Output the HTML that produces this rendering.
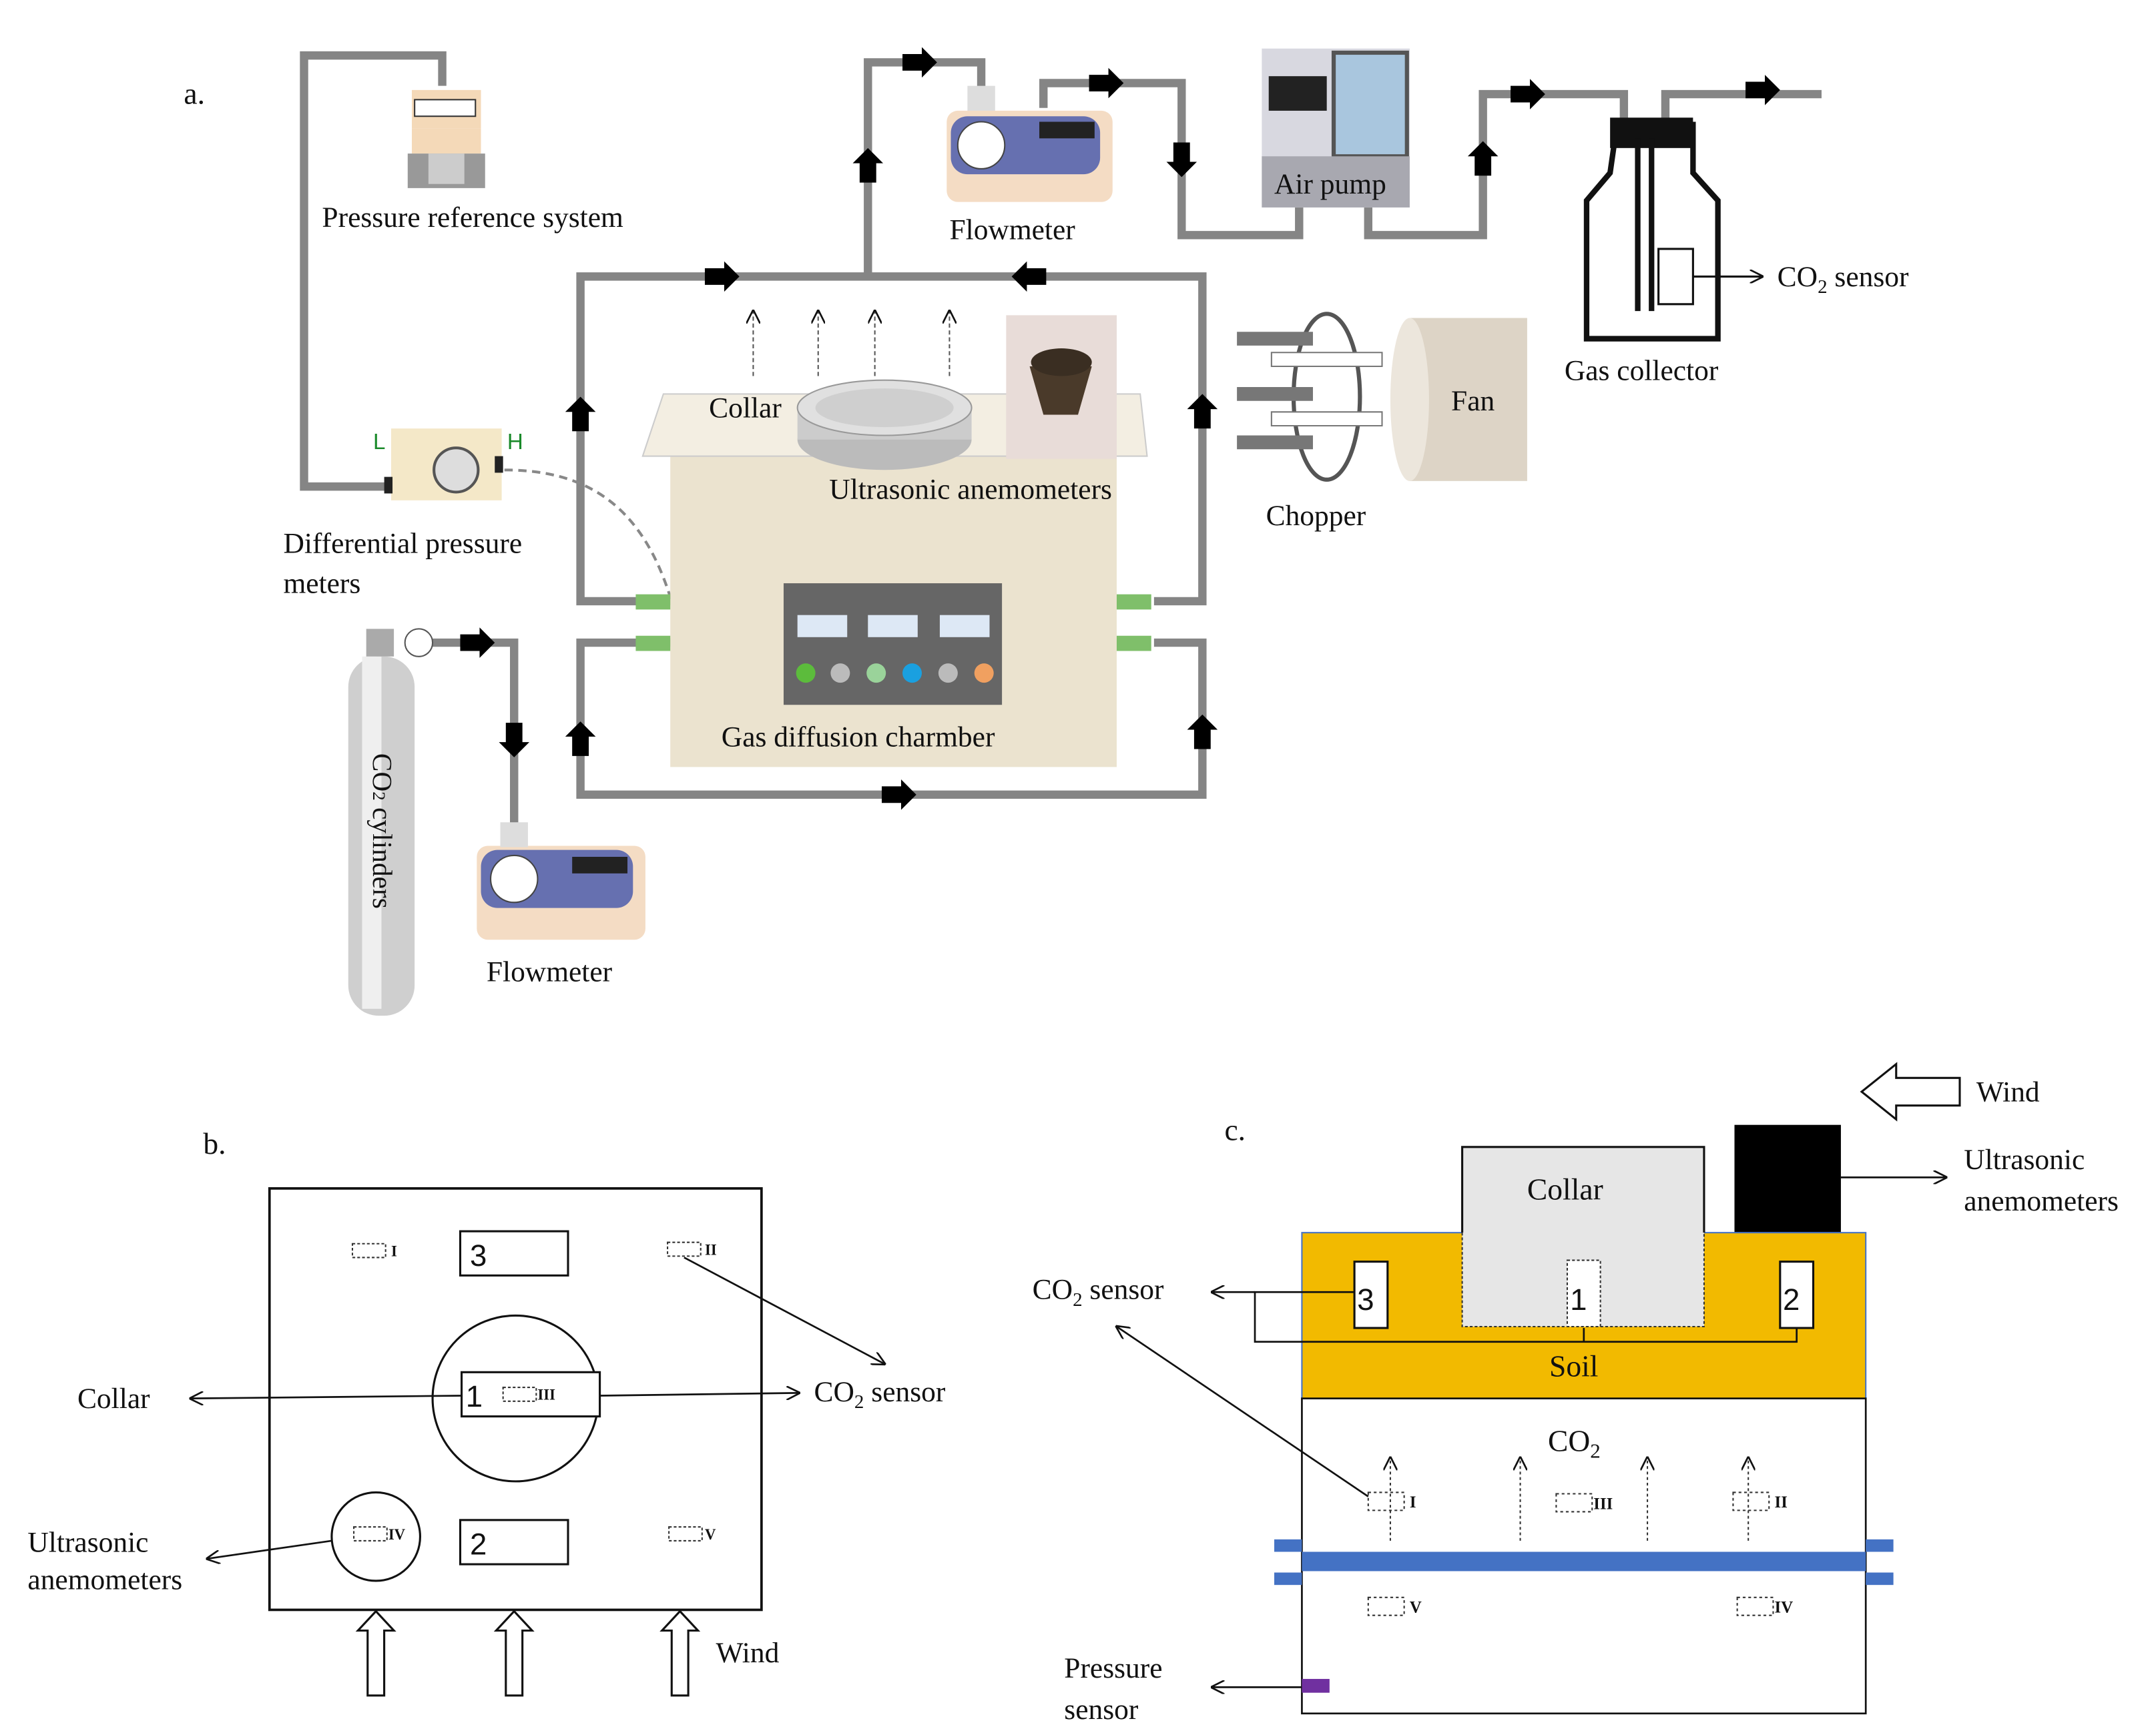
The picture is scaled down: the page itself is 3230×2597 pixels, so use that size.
<!DOCTYPE html>
<html><head><meta charset="utf-8"><style>
html,body{margin:0;padding:0;background:#fff}
svg{display:block}
text{font-family:"Liberation Serif",serif;fill:#111}
.s{font-family:"Liberation Sans",sans-serif}
</style></head><body>
<svg width="3230" height="2597" viewBox="0 0 1560 1254" xmlns="http://www.w3.org/2000/svg">
<defs>
<marker id="ah" markerWidth="10" markerHeight="10" refX="9" refY="5" orient="auto" markerUnits="userSpaceOnUse"><path d="M0,0 L10,5 L0,10" fill="none" stroke="#111" stroke-width="1.3"/></marker>
<g id="ba"><path d="M-12,-6 L2,-6 L2,-11 L13,0 L2,11 L2,6 L-12,6 Z" fill="#000"/></g>
</defs>
<rect width="1560" height="1254" fill="#fff"/>
<!-- ===== a ===== -->
<text x="133" y="75" font-size="22">a.</text>
<g fill="none" stroke="#858585" stroke-width="6">
<path d="M320,62 V40 H220 V352 H283"/>
<path d="M485,435 H420 V200 H870 V435 H835"/>
<path d="M485,465 H420 V575 H870 V465 H835"/>
<path d="M628,200 V45 H710 V72"/>
<path d="M755,78 V60 H855 V170 H940 V150"/>
<path d="M990,150 V170 H1073 V68 H1175 V95"/>
<path d="M1205,95 V68 H1318"/>
<path d="M305,465 H372 V598"/>
</g>
<!-- black arrows -->
<use href="#ba" transform="translate(522,200)"/>
<use href="#ba" transform="translate(745,200) rotate(180)"/>
<use href="#ba" transform="translate(420,300) rotate(-90)"/>
<use href="#ba" transform="translate(870,298) rotate(-90)"/>
<use href="#ba" transform="translate(628,120) rotate(-90)"/>
<use href="#ba" transform="translate(665,45)"/>
<use href="#ba" transform="translate(800,60)"/>
<use href="#ba" transform="translate(855,115) rotate(90)"/>
<use href="#ba" transform="translate(1073,115) rotate(-90)"/>
<use href="#ba" transform="translate(1105,68)"/>
<use href="#ba" transform="translate(1275,65)"/>
<use href="#ba" transform="translate(345,465)"/>
<use href="#ba" transform="translate(372,535) rotate(90)"/>
<use href="#ba" transform="translate(420,535) rotate(-90)"/>
<use href="#ba" transform="translate(870,530) rotate(-90)"/>
<use href="#ba" transform="translate(650,575)"/>
<!-- pressure reference -->
<rect x="298" y="65" width="50" height="28" fill="#f4d9b8"/>
<rect x="300" y="72" width="44" height="12" fill="#fff" stroke="#333"/>
<circle cx="322" cy="102" r="8" fill="#e0302a"/>
<rect x="298" y="93" width="50" height="18" fill="#f4d9b8"/>
<rect x="295" y="111" width="56" height="25" fill="#999"/>
<rect x="310" y="111" width="26" height="22" fill="#ccc"/>
<text x="233" y="164" font-size="21">Pressure reference system</text>
<!-- diff pressure -->
<rect x="283" y="310" width="80" height="52" fill="#f4e8c8"/>
<circle cx="330" cy="340" r="16" fill="#ddd" stroke="#555" stroke-width="2"/>
<rect x="278" y="345" width="6" height="12" fill="#222"/><rect x="358" y="330" width="6" height="12" fill="#222"/>
<text x="270" y="325" font-size="16" class="s" style="fill:#1a8a2a">L</text>
<text x="367" y="325" font-size="16" class="s" style="fill:#1a8a2a">H</text>
<text x="205" y="400" font-size="21">Differential pressure</text>
<text x="205" y="429" font-size="21">meters</text>
<path d="M365,340 C440,340 490,380 500,520" fill="none" stroke="#888" stroke-width="2" stroke-dasharray="6,4"/>
<!-- chamber -->
<rect x="485" y="300" width="323" height="255" fill="#ebe3cf"/>
<path d="M465,330 L480,285 H825 L830,330 Z" fill="#f3eee2" stroke="#ccc"/>
<g fill="#7fbf6a"><rect x="460" y="430" width="25" height="11"/><rect x="460" y="460" width="25" height="11"/><rect x="808" y="430" width="25" height="11"/><rect x="808" y="460" width="25" height="11"/></g>
<rect x="567" y="422" width="158" height="88" fill="#666"/>
<g fill="#dde8f5"><rect x="577" y="445" width="36" height="16"/><rect x="628" y="445" width="36" height="16"/><rect x="680" y="445" width="36" height="16"/></g>
<circle cx="583" cy="487" r="7" fill="#5cbc3c"/><circle cx="608" cy="487" r="7" fill="#bbb"/><circle cx="634" cy="487" r="7" fill="#9ad39a"/><circle cx="660" cy="487" r="7" fill="#1aa0e0"/><circle cx="686" cy="487" r="7" fill="#bbb"/><circle cx="712" cy="487" r="7" fill="#f0a060"/>
<text x="522" y="540" font-size="21">Gas diffusion charmber</text>
<ellipse cx="640" cy="318" rx="63" ry="22" fill="#bbb"/>
<rect x="577" y="295" width="126" height="23" fill="#ccc"/>
<ellipse cx="640" cy="295" rx="63" ry="20" fill="#e0e0e0" stroke="#999"/>
<ellipse cx="640" cy="295" rx="50" ry="14" fill="#cfcfcf"/>
<text x="513" y="302" font-size="21">Collar</text>
<rect x="728" y="228" width="80" height="104" fill="#e8dcd8"/>
<path d="M745,265 H790 L780,300 H755 Z" fill="#4a3a2a"/><ellipse cx="768" cy="262" rx="22" ry="10" fill="#3a2e22"/>
<text x="600" y="361" font-size="21">Ultrasonic anemometers</text>
<g stroke="#555" stroke-width="1" stroke-dasharray="3,2" fill="none">
<path d="M545,272 V225" marker-end="url(#ah)"/><path d="M592,272 V225" marker-end="url(#ah)"/><path d="M633,272 V225" marker-end="url(#ah)"/><path d="M687,272 V225" marker-end="url(#ah)"/></g>
<!-- flowmeter top -->
<rect x="685" y="80" width="120" height="66" rx="8" fill="#f4dcc4"/>
<rect x="688" y="84" width="108" height="42" rx="12" fill="#6670b0"/>
<circle cx="710" cy="105" r="17" fill="#fff" stroke="#444"/>
<rect x="752" y="88" width="40" height="12" fill="#222"/>
<rect x="700" y="62" width="20" height="18" fill="#ddd"/>
<text x="687" y="173" font-size="21">Flowmeter</text>
<!-- air pump -->
<rect x="913" y="35" width="107" height="115" fill="#d8d8e0"/>
<rect x="965" y="38" width="53" height="75" fill="#a9c6de" stroke="#555" stroke-width="3"/>
<rect x="918" y="55" width="42" height="25" fill="#222"/>
<rect x="913" y="113" width="107" height="37" fill="#a8a8b0"/>
<text x="922" y="140" font-size="21">Air pump</text>
<!-- gas collector -->
<path d="M1170,90 H1225 V125 L1243,145 V245 H1148 V145 L1165,125 Z" fill="#fff" stroke="#111" stroke-width="4"/>
<rect x="1165" y="85" width="60" height="22" fill="#111"/>
<line x1="1185" y1="100" x2="1185" y2="225" stroke="#111" stroke-width="4"/>
<line x1="1195" y1="100" x2="1195" y2="225" stroke="#111" stroke-width="4"/>
<rect x="1200" y="180" width="25" height="40" fill="#fff" stroke="#111" stroke-width="1.5"/>
<line x1="1225" y1="200" x2="1275" y2="200" stroke="#111" stroke-width="1.5" marker-end="url(#ah)"/>
<text x="1286" y="207" font-size="21">CO<tspan font-size="14" dy="5">2</tspan><tspan dy="-5"> sensor</tspan></text>
<text x="1132" y="275" font-size="21">Gas collector</text>
<!-- fan & chopper -->
<rect x="1020" y="230" width="85" height="118" fill="#ddd4c6"/>
<ellipse cx="1020" cy="289" rx="14" ry="59" fill="#ece6dc"/>
<text x="1050" y="297" font-size="21">Fan</text>
<ellipse cx="960" cy="287" rx="24" ry="60" fill="none" stroke="#555" stroke-width="3"/>
<g fill="#777"><path d="M895,240 h55 v10 h-55z"/><path d="M895,280 h55 v10 h-55z"/><path d="M895,315 h55 v10 h-55z"/></g>
<g fill="#fff" stroke="#777"><path d="M920,255 h80 v10 h-80z"/><path d="M920,298 h80 v10 h-80z"/></g>
<text x="916" y="380" font-size="21">Chopper</text>
<!-- CO2 cylinder -->
<rect x="252" y="475" width="48" height="260" rx="22" fill="#cfcfcf"/>
<rect x="262" y="475" width="14" height="255" fill="#efefef"/>
<circle cx="303" cy="465" r="10" fill="#fff" stroke="#555"/>
<rect x="265" y="455" width="20" height="20" fill="#aaa"/>
<text transform="translate(270,545) rotate(90)" font-size="20">CO<tspan font-size="13">2</tspan> cylinders</text>
<!-- flowmeter bottom -->
<rect x="345" y="612" width="122" height="68" rx="8" fill="#f4dcc4"/>
<rect x="348" y="615" width="110" height="42" rx="12" fill="#6670b0"/>
<circle cx="372" cy="636" r="17" fill="#fff" stroke="#444"/>
<rect x="414" y="620" width="40" height="12" fill="#222"/>
<rect x="362" y="595" width="20" height="18" fill="#ddd"/>
<text x="352" y="710" font-size="21">Flowmeter</text>

<!-- ===== b ===== -->
<text x="147" y="835" font-size="22">b.</text>
<rect x="195" y="860" width="356" height="305" fill="none" stroke="#111" stroke-width="1.8"/>
<rect x="333" y="891" width="78" height="32" fill="#fff" stroke="#111" stroke-width="1.5"/><text x="340" y="916" font-size="22" class="s">3</text>
<rect x="333" y="1100" width="78" height="32" fill="#fff" stroke="#111" stroke-width="1.5"/><text x="340" y="1125" font-size="22" class="s">2</text>
<circle cx="373" cy="1012" r="60" fill="none" stroke="#111" stroke-width="1.5"/>
<rect x="334" y="993" width="100" height="32" fill="#fff" stroke="#111" stroke-width="1.5"/><text x="337" y="1018" font-size="22" class="s">1</text>
<circle cx="272" cy="1112" r="32" fill="none" stroke="#111" stroke-width="1.5"/>
<g fill="none" stroke="#333" stroke-dasharray="2,1.5"><rect x="255" y="900" width="24" height="10"/><rect x="483" y="899" width="24" height="10"/><rect x="364" y="1004" width="24" height="10"/><rect x="256" y="1105" width="24" height="10"/><rect x="484" y="1105" width="24" height="10"/></g>
<g font-size="11" font-weight="bold"><text x="283" y="909">I</text><text x="510" y="908">II</text><text x="389" y="1013">III</text><text x="281" y="1114">IV</text><text x="510" y="1114">V</text></g>
<g stroke="#111" stroke-width="1.3" fill="none" marker-end="url(#ah)">
<line x1="334" y1="1010" x2="138" y2="1012"/><line x1="434" y1="1010" x2="578" y2="1008"/><line x1="495" y1="910" x2="640" y2="987"/><line x1="240" y1="1115" x2="150" y2="1128"/></g>
<text x="56" y="1019" font-size="21">Collar</text>
<text x="589" y="1014" font-size="21">CO<tspan font-size="14" dy="5">2</tspan><tspan dy="-5"> sensor</tspan></text>
<text x="20" y="1123" font-size="21">Ultrasonic</text><text x="20" y="1150" font-size="21">anemometers</text>
<g fill="#fff" stroke="#111" stroke-width="1.5"><path d="M266,1227 V1180 H259 L272,1166 L285,1180 H278 V1227Z"/><path d="M366,1227 V1180 H359 L372,1166 L385,1180 H378 V1227Z"/><path d="M486,1227 V1180 H479 L492,1166 L505,1180 H498 V1227Z"/></g>
<text x="518" y="1203" font-size="21">Wind</text>

<!-- ===== c ===== -->
<text x="886" y="825" font-size="22">c.</text>
<path d="M1418,780 V800 H1372 V810 L1347,790 L1372,770 V780 Z" fill="#fff" stroke="#111" stroke-width="1.5"/>
<text x="1430" y="797" font-size="21">Wind</text>
<rect x="1255" y="814" width="77" height="78" fill="#000"/>
<line x1="1332" y1="852" x2="1408" y2="852" stroke="#111" stroke-width="1.3" marker-end="url(#ah)"/>
<text x="1421" y="846" font-size="21">Ultrasonic</text><text x="1421" y="876" font-size="21">anemometers</text>
<rect x="942" y="892" width="408" height="120" fill="#f2ba00" stroke="#4472c4" stroke-width="1"/>
<rect x="1058" y="830" width="175" height="130" fill="#e6e6e6"/>
<path d="M1058,892 V830 H1233 V892" fill="none" stroke="#111" stroke-width="1.5"/>
<path d="M1058,892 V960 H1233 V892" fill="none" stroke="#333" stroke-dasharray="2,1.5"/>
<text x="1105" y="868" font-size="22">Collar</text>
<rect x="1134" y="912" width="24" height="48" fill="#fff" stroke="#333" stroke-dasharray="2,1.5"/><text x="1136" y="948" font-size="22" class="s">1</text>
<rect x="980" y="913" width="24" height="48" fill="#fff" stroke="#111" stroke-width="1.5"/><text x="982" y="948" font-size="22" class="s">3</text>
<rect x="1288" y="913" width="24" height="48" fill="#fff" stroke="#111" stroke-width="1.5"/><text x="1290" y="948" font-size="22" class="s">2</text>
<path d="M1300,961 V971 H908 V935 H980 M1146,961 V971" fill="none" stroke="#111" stroke-width="1.3"/>
<line x1="908" y1="935" x2="877" y2="935" stroke="#111" stroke-width="1.3" marker-end="url(#ah)"/>
<text x="747" y="940" font-size="21">CO<tspan font-size="14" dy="5">2</tspan><tspan dy="-5"> sensor</tspan></text>
<text x="1121" y="996" font-size="22">Soil</text>
<rect x="942" y="1012" width="408" height="228" fill="#fff" stroke="#111" stroke-width="1.3"/>
<text x="1120" y="1050" font-size="22">CO<tspan font-size="15" dy="5">2</tspan></text>
<line x1="990" y1="1083" x2="808" y2="960" stroke="#111" stroke-width="1.3" marker-end="url(#ah)"/>
<g stroke="#333" stroke-width="1" stroke-dasharray="2,2" fill="none"><path d="M1006,1115 V1055" marker-end="url(#ah)"/><path d="M1100,1115 V1055" marker-end="url(#ah)"/><path d="M1192,1115 V1055" marker-end="url(#ah)"/><path d="M1265,1115 V1055" marker-end="url(#ah)"/>
<rect x="990" y="1080" width="26" height="13"/><rect x="1126" y="1081" width="26" height="13"/><rect x="1254" y="1080" width="26" height="13"/><rect x="990" y="1156" width="26" height="13"/><rect x="1257" y="1156" width="26" height="13"/></g>
<g font-size="12" font-weight="bold"><text x="1020" y="1091">I</text><text x="1153" y="1092">III</text><text x="1284" y="1091">II</text><text x="1020" y="1167">V</text><text x="1284" y="1167">IV</text></g>
<g fill="#4472c4"><rect x="942" y="1123" width="408" height="14"/><rect x="922" y="1114" width="20" height="9"/><rect x="922" y="1138" width="20" height="9"/><rect x="1350" y="1114" width="20" height="9"/><rect x="1350" y="1138" width="20" height="9"/></g>
<rect x="942" y="1215" width="20" height="10" fill="#7030a0"/>
<line x1="942" y1="1221" x2="877" y2="1221" stroke="#111" stroke-width="1.3" marker-end="url(#ah)"/>
<text x="770" y="1214" font-size="21">Pressure</text><text x="770" y="1244" font-size="21">sensor</text>
</svg>
</body></html>
